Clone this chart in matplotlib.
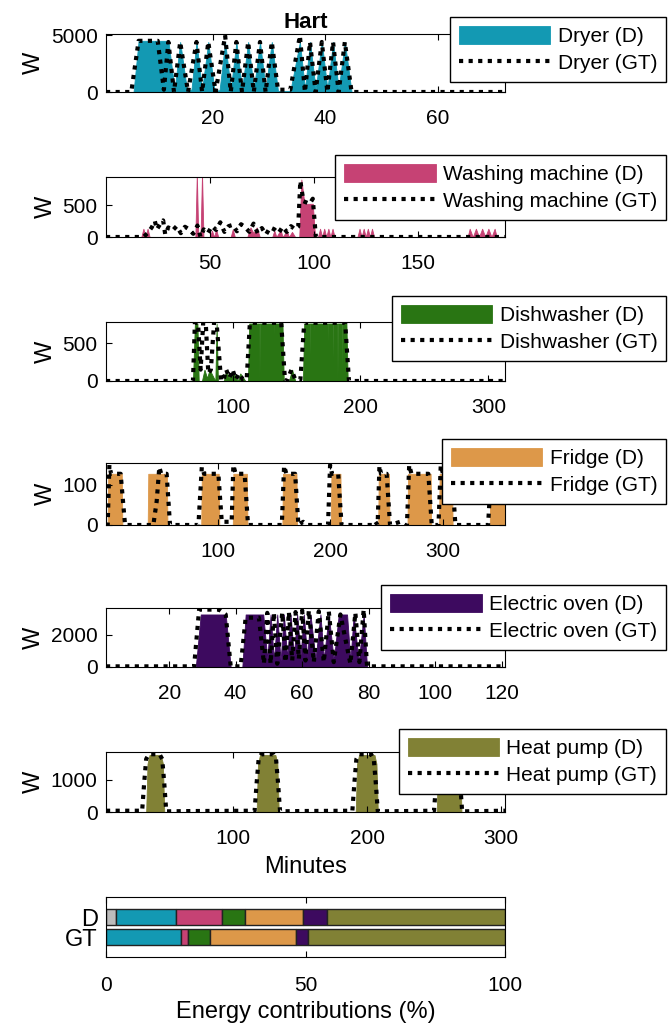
import matplotlib.pyplot as plt
import numpy as np

plt.rcParams['font.family'] = ['Liberation Sans', 'DejaVu Sans']

# Цвета приборов
c_gray = '#bcbcbc'
c_dryer = '#1399b3'
c_wash = '#c64274'
c_dish = '#297513'
c_fridge = '#dd9849'
c_oven = '#3d0a5f'
c_heat = '#818135'

# Сушилка (точки излома: минуты, ватты)
dryer_d_t = [1, 5.9, 6.8, 12.1, 13.2, 14.2, 15.4, 16.2, 17.1, 18.1, 19.2, 20.3, 21.2, 22.2, 23.2, 24.2, 25.2,
             26.3, 27.3, 28.4, 29.4, 30.5, 31.6, 33.8, 35.5, 36.4, 37.3, 38.3, 39.4, 40.4, 41.4, 42.4,
             43.5, 44.7, 72]
dryer_d_v = [0, 0, 4500, 4500, 200, 4400, 200, 200, 4400, 200, 4400, 150, 150, 4400, 250, 4400, 250,
             4400, 250, 4400, 250, 4400, 100, 100, 4400, 250, 4400, 250, 4400, 250, 4400, 250,
             4400, 0, 0]
dryer_gt_t = [1, 5.5, 6.8, 10.2, 11.3, 12.1, 13.1, 14.2, 15.6, 17.1, 18.1, 19.2, 20.5, 22.2, 23.2, 24.2,
              25.2, 26.3, 27.3, 28.4, 29.4, 30.5, 31.6, 33.8, 35.5, 36.4, 37.3, 38.3, 39.4, 40.4, 41.4,
              42.4, 43.5, 44.7, 72]
dryer_gt_v = [0, 0, 4500, 4500, 200, 4400, 0, 4400, 0, 4400, 0, 4400, 0, 4950, 0, 4400,
              0, 4400, 0, 4400, 0, 4400, 200, 200, 4950, 0, 4400, 0, 4400, 0, 4400,
              0, 4400, 0, 0]

# Стиральная машина
wash_d_t = [0, 17, 18, 19, 20, 21, 43, 43.7, 44.4, 45.5, 46.2, 46.9, 50, 51, 52, 53, 54, 60, 61, 62,
            68, 69.5, 71, 72.5, 74, 80, 81, 82, 84, 85, 87, 88, 89.5, 91, 93, 94, 95.5, 99.5, 100.6,
            102, 103, 104, 105, 106, 107, 108, 109, 110,
            121, 122, 123, 124, 125, 126, 127, 128, 129,
            174, 175, 176.5, 178, 179.5, 181, 182.5, 184, 185.5, 187, 188, 192]
wash_d_v = [0, 0, 130, 0, 130, 0, 0, 1000, 0, 0, 1000, 0, 0, 100, 0, 120, 0, 0, 120, 0,
            0, 150, 60, 150, 0, 0, 100, 0, 110, 0, 100, 0, 80, 0, 0, 900, 520, 520, 0,
            0, 130, 0, 130, 0, 130, 0, 130, 0,
            0, 130, 0, 130, 0, 130, 0, 130, 0,
            0, 130, 0, 130, 0, 130, 0, 130, 0, 130, 0, 0]
wash_gt_t = [0, 18, 20, 22, 23.5, 24.5, 26, 27.5, 28.5, 30, 32, 34, 36, 38, 40, 42, 44, 45.5, 47, 49,
             51, 53, 55, 57, 59, 61, 63, 65, 67, 69, 71, 73, 75, 77, 79, 81, 83, 85, 87, 89, 91,
             92.5, 93.5, 95, 98, 99.5, 101, 192]
wash_gt_v = [0, 0, 60, 150, 250, 120, 200, 260, 40, 150, 100, 170, 60, 160, 120, 50, 180, 0, 120, 60,
             170, 110, 230, 80, 170, 190, 90, 200, 150, 80, 210, 60, 140, 40, 150, 120, 60, 160, 80, 170, 120,
             160, 880, 560, 520, 600, 0, 0]

# Посудомоечная машина
dish_d_t = [1, 69, 70.5, 72.5, 73.5, 76, 78, 80, 82, 86.5, 87.5, 88.5, 93, 95, 97, 100, 104, 106, 110,
            112, 113, 115.7, 116, 116.3, 120.7, 121, 121.3, 126.7, 127, 127.3, 132.7, 133, 133.3, 139, 140,
            144, 146.5, 149, 155, 156,
            159.7, 160, 160.3, 162.7, 163, 163.3, 165.7, 166, 166.3, 169.7, 170, 170.3, 173.7, 174, 174.3,
            177.7, 178, 178.3, 181.7, 182, 182.3, 185.7, 186, 186.3, 189, 190, 313]
dish_d_v = [0, 0, 760, 760, 0, 0, 150, 40, 150, 0, 760, 0, 0, 130, 40, 130, 0, 100, 0,
            0, 760, 760, 0, 760, 760, 0, 760, 760, 0, 760, 760, 0, 760, 760, 0,
            0, 150, 0, 0, 760,
            760, 0, 760, 760, 0, 760, 760, 0, 760, 760, 0, 760, 760, 0, 760,
            760, 0, 760, 760, 0, 760, 760, 0, 760, 760, 0, 0]
dish_gt_t = [1, 69, 70.5, 73, 75, 77, 79, 81, 83, 85.5, 87.5, 91, 93, 95, 97.5, 100, 102.5, 105, 108,
             111, 113.5, 138, 141, 143, 146, 149, 153, 156, 188, 191, 313]
dish_gt_v = [0, 0, 770, 770, 150, 770, 770, 100, 150, 770, 770, 0, 20, 150, 40, 150, 20, 100, 20,
             20, 770, 770, 0, 20, 150, 20, 20, 770, 770, 0, 0]

# Холодильник
fridge_d_t = [1, 2.5, 3, 15, 15.5, 38, 38.5, 55, 55.5, 85.5, 86, 101, 101.5, 113.5, 114, 126, 126.5,
              157.5, 158, 170, 170.5, 200.5, 201, 209, 209.5, 242.5, 243, 252, 252.5,
              268.5, 269, 289, 289.5, 296.5, 297, 308, 308.5, 341.5, 342, 355]
fridge_d_v = [0, 0, 128, 128, 0, 0, 128, 128, 0, 0, 128, 128, 0, 0, 128, 128, 0,
              0, 128, 128, 0, 0, 128, 128, 0, 0, 128, 128, 0,
              0, 128, 128, 0, 0, 128, 128, 0, 0, 128, 128]
fridge_gt_t = [1, 2.5, 4, 5.5, 14, 17.9, 43, 46, 48.3, 50, 54.8, 57.8, 83, 86, 88, 100.7, 103.7, 112.5, 114,
               116, 124, 127, 157, 159, 161, 168.8, 171.7, 176, 180, 198, 199.8, 201.5, 207, 210,
               238, 240, 242, 243.6, 245, 250, 253, 262, 266, 268, 270, 272, 287, 290,
               296, 298, 300, 308, 311, 340, 343, 345, 355]
fridge_gt_v = [0, 0, 150, 128, 128, 0, 0, 60, 145, 128, 128, 0, 0, 145, 128, 128, 8, 8, 150,
               128, 128, 0, 0, 148, 128, 128, 0, 8, 0, 0, 150, 128, 128, 0,
               0, 8, 0, 148, 128, 128, 0, 8, 0, 0, 150, 128, 128, 0,
               0, 150, 128, 128, 0, 0, 150, 128, 128]

# Электрическая духовка
oven_d_t = [1, 28, 29.5, 37, 38.5, 42, 43, 48.3, 49.5, 50.5, 51.5, 52.5, 53.5, 54.5, 55.5, 56.5, 57.5,
            58.5, 59.5, 60.5, 61.5, 62.5, 64, 65.5, 66.5, 68, 69.5, 71, 73.5, 74.5, 75.5, 77, 78.5,
            79.5, 121]
oven_d_v = [0, 0, 3250, 3250, 0, 0, 3250, 3250, 500, 3250, 400, 3250, 400, 3250, 600, 3250, 700,
            3250, 700, 3250, 600, 3250, 500, 3250, 500, 3250, 400, 3250, 3250, 400, 3250, 300, 3250,
            0, 0]
oven_gt_t = [1, 27.5, 29, 35, 37, 38.5, 41.5, 43, 47, 48.5, 49.5, 50.5, 51.5, 52.5, 54, 55, 56, 57, 58,
             59, 60, 61, 62, 63.5, 65, 66.5, 68, 69.5, 71.5, 74.5, 76, 77.2, 78.5, 79.5, 121]
oven_gt_v = [40, 40, 3550, 3550, 3250, 40, 40, 3050, 3050, 200, 3350, 200, 3350, 200, 3350, 300, 3400,
             400, 3400, 500, 3500, 400, 3500, 300, 3450, 300, 3450, 300, 3250, 200, 3350, 300, 3550, 40, 40]

# Тепловой насос
heat_d_t = [5, 35, 36, 37.5, 46, 47.5, 48.5, 117.5, 118.5, 120, 131.5, 133, 134, 191.5, 192.5, 194,
            205.5, 207, 208, 252, 253, 254.5, 268, 269.5, 270.5, 303]
heat_d_v = [0, 0, 1500, 1780, 1780, 1500, 0, 0, 1500, 1780, 1780, 1500, 0, 0, 1500, 1780,
            1780, 1500, 0, 0, 1500, 1780, 1780, 1500, 0, 0]
heat_gt_t = [5, 32, 33.5, 35, 37, 45, 47, 48.5, 50, 70, 116, 117.5, 119, 121, 130, 132, 133.5, 135,
             150, 189, 190.5, 192, 194, 203, 205, 206.5, 208, 230, 250, 251.5, 253, 255, 266, 268,
             269.5, 271, 303]
heat_gt_v = [40, 40, 900, 1650, 1800, 1800, 1650, 900, 20, 30, 40, 900, 1650, 1800, 1800, 1650, 900, 20,
             30, 40, 900, 1650, 1800, 1800, 1650, 900, 20, 30, 40, 900, 1650, 1800, 1800, 1650,
             900, 20, 40]

# Доли энергии (%)
bar_colors = [c_gray, c_dryer, c_wash, c_dish, c_fridge, c_oven, c_heat]
share_d = [2.5, 15.0, 11.5, 5.8, 14.5, 6.0, 44.7]
share_gt = [0.0, 18.9, 1.6, 5.5, 21.7, 3.0, 49.3]

panels = [
    ('Dryer', c_dryer, dryer_d_t, dryer_d_v, dryer_gt_t, dryer_gt_v, (1, 72), (0, 5100),
     [20, 40, 60], [0, 5000], 34, 92, 17),
    ('Washing machine', c_wash, wash_d_t, wash_d_v, wash_gt_t, wash_gt_v, (0, 192), (0, 940),
     [50, 100, 150], [0, 500], 177, 237, 155),
    ('Dishwasher', c_dish, dish_d_t, dish_d_v, dish_gt_t, dish_gt_v, (1, 313), (0, 780),
     [100, 200, 300], [0, 500], 322, 381, 296),
    ('Fridge', c_fridge, fridge_d_t, fridge_d_v, fridge_gt_t, fridge_gt_v, (1, 355), (0, 155),
     [100, 200, 300], [0, 100], 463, 525, 439),
    ('Electric oven', c_oven, oven_d_t, oven_d_v, oven_gt_t, oven_gt_v, (1, 121), (0, 3650),
     [20, 40, 60, 80, 100, 120], [0, 2000], 608, 667, 585),
    ('Heat pump', c_heat, heat_d_t, heat_d_v, heat_gt_t, heat_gt_v, (5, 303), (0, 1870),
     [100, 200, 300], [0, 1000], 752, 812, 729),
]

W, H = 671, 1027
fig = plt.figure(figsize=(W / 100, H / 100), dpi=100)


def box(top, bottom):
    return [106 / W, 1 - bottom / H, 399 / W, (bottom - top) / H]


def style(ax):
    ax.tick_params(direction='in', top=True, right=True, length=4, labelsize=15, width=0.8)
    ax.tick_params(axis='x', pad=12)
    ax.tick_params(axis='y', pad=6)
    for s in ax.spines.values():
        s.set_linewidth(0.8)


for (name, col, dt, dv, gt, gv, xl, yl, xt, yt, top, bottom, ltop) in panels:
    ax = fig.add_axes(box(top, bottom))
    ax.fill_between(dt, dv, color=col, lw=0.6, label=name + ' (D)')
    ax.plot(gt, gv, color='black', lw=3, linestyle=(0, (1, 1.3)), label=name + ' (GT)')
    ax.set_xlim(*xl)
    ax.set_ylim(*yl)
    ax.set_xticks(xt)
    ax.set_yticks(yt)
    ax.set_ylabel('W', fontsize=17)
    style(ax)
    fig.legend(*ax.get_legend_handles_labels(), loc='upper right',
               bbox_to_anchor=(666 / W, 1 - ltop / H), bbox_transform=fig.transFigure,
               borderaxespad=0, fontsize=15, fancybox=False, framealpha=1, edgecolor='black',
               handlelength=4.4, handleheight=1.0, labelspacing=0.3, borderpad=0.42,
               handletextpad=0.35)
    if name == 'Dryer':
        ax.set_title('Hart', fontsize=16, fontweight='bold', pad=4)
    if name == 'Heat pump':
        ax.set_xlabel('Minutes', fontsize=17, labelpad=6)

# Столбчатая диаграмма долей
axb = fig.add_axes(box(897, 957))
left_d = np.cumsum([0] + share_d[:-1])
left_gt = np.cumsum([0] + share_gt[:-1])
axb.barh(2, share_d, left=left_d, height=0.8, color=bar_colors, edgecolor='#222222', lw=1)
axb.barh(1, share_gt, left=left_gt, height=0.8, color=bar_colors, edgecolor='#222222', lw=1)
axb.set_xlim(0, 100)
axb.set_ylim(0, 3)
axb.set_xticks([0, 50, 100])
axb.set_yticks([1, 2])
axb.set_yticklabels(['GT', 'D'])
style(axb)
axb.tick_params(axis='x', pad=14)
axb.tick_params(axis='y', length=0, labelsize=17)
axb.set_xlabel('Energy contributions (%)', fontsize=17, labelpad=4)

fig.savefig('out.png', dpi=100)
